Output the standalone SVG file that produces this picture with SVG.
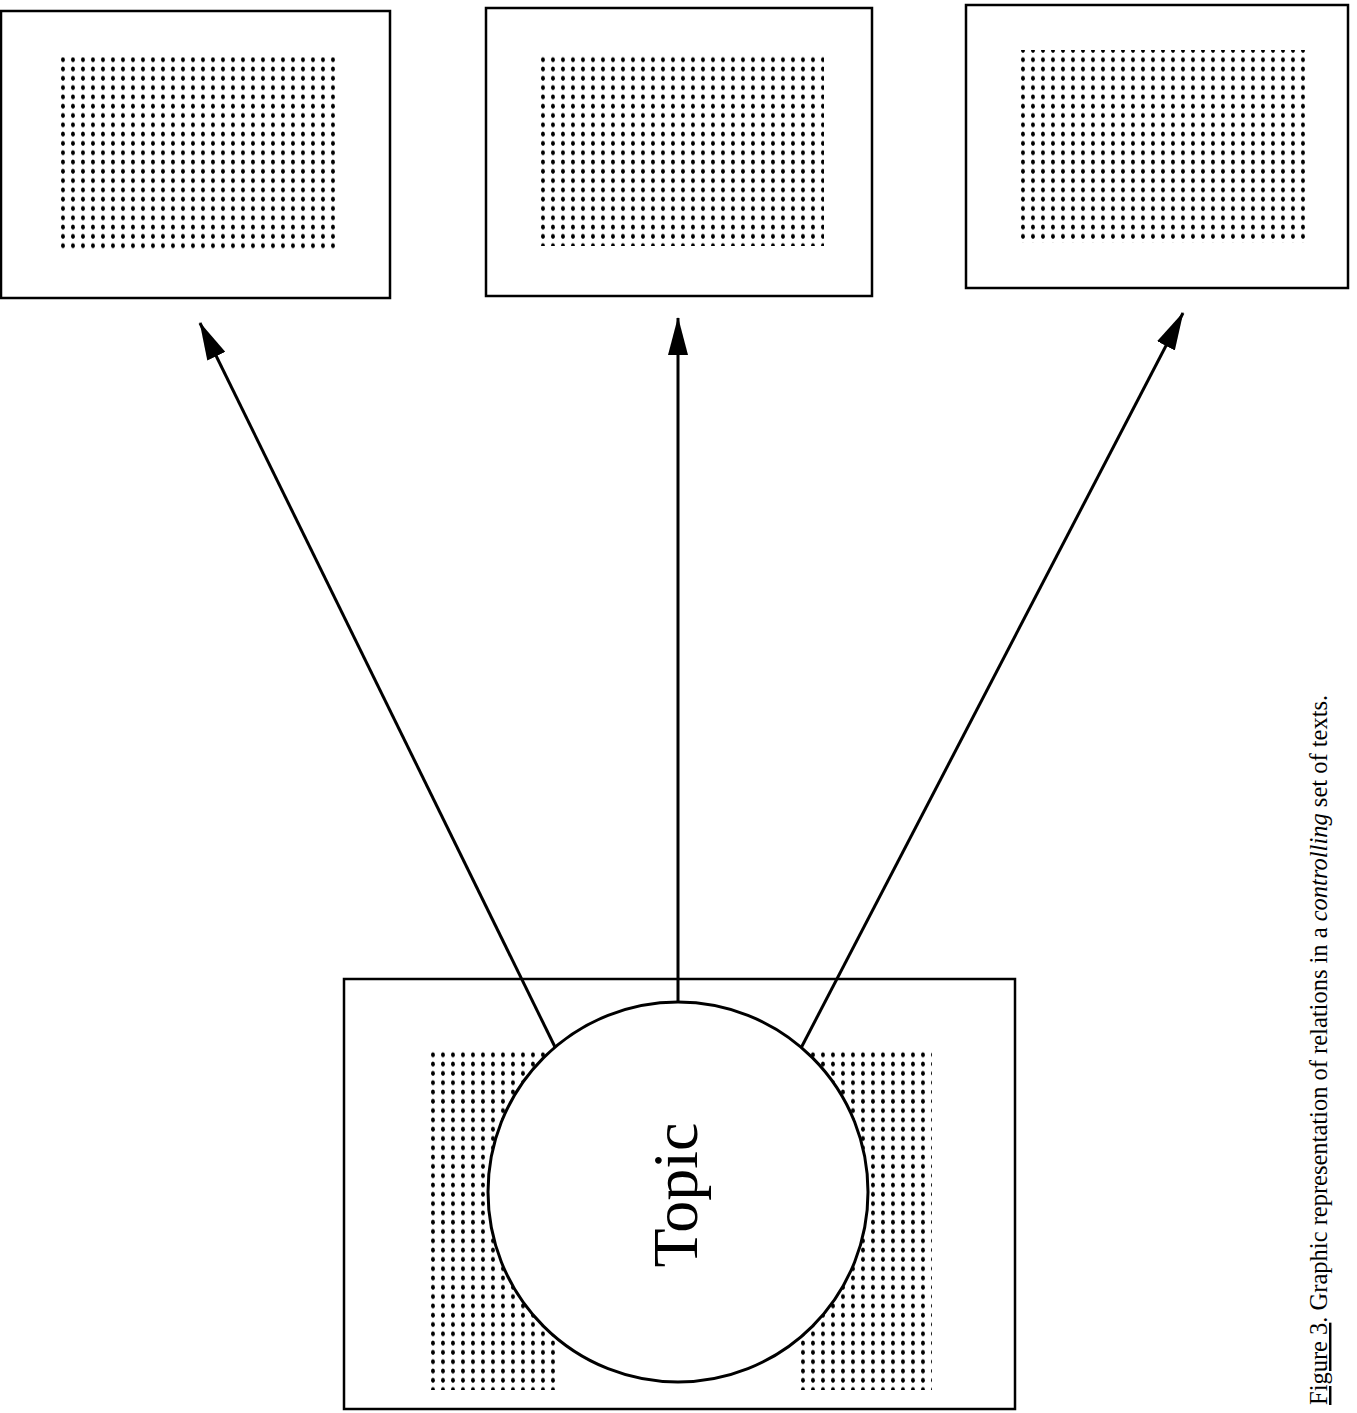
<svg xmlns="http://www.w3.org/2000/svg" width="1357" height="1413" viewBox="0 0 1357 1413">
<style>
.box{fill:#fff;stroke:#000;stroke-width:2.5}
.dots{fill:url(#dot)}
.conn{stroke:#000;stroke-width:3;fill:none;marker-end:url(#ah)}
.topic{font-family:"Liberation Serif","Times New Roman",serif;font-size:64px;fill:#000}
.cap{font-family:"Liberation Serif","Times New Roman",serif;font-size:24.5px;fill:#000}
</style>
<defs>
<pattern id="dot" x="0" y="0" width="10" height="9.3" patternUnits="userSpaceOnUse">
<ellipse cx="3" cy="4" rx="1.9" ry="2.6" fill="#000"/>
</pattern>
<marker id="ah" viewBox="0 0 38 20" refX="37" refY="10" markerWidth="38" markerHeight="20" markerUnits="userSpaceOnUse" orient="auto">
<path d="M0,0 L38,10 L0,20 Z" fill="#000"/>
</marker>
</defs>
<rect width="1357" height="1413" fill="#fff"/>
<g id="box-left">
<rect class="box" x="1" y="11" width="389" height="287"/>
<rect class="dots" x="56" y="57" width="283" height="195"/>
</g>
<g id="box-middle">
<rect class="box" x="486" y="8" width="386" height="288"/>
<rect class="dots" x="537" y="54" width="287" height="192"/>
</g>
<g id="box-right">
<rect class="box" x="966" y="5" width="382" height="283"/>
<rect class="dots" x="1017" y="50" width="288" height="193"/>
</g>
<g id="topic-page">
<rect class="box" x="344" y="979" width="671" height="430"/>
<rect class="dots" x="425" y="1050" width="130" height="340"/>
<rect class="dots" x="800" y="1050" width="132" height="340"/>
</g>
<g id="connectors">
<line class="conn" x1="555" y1="1047" x2="200" y2="323"/>
<line class="conn" x1="678" y1="1002" x2="678" y2="318"/>
<line class="conn" x1="800" y1="1050" x2="1183" y2="313"/>
</g>
<g id="topic">
<circle cx="678" cy="1192" r="190" fill="#fff" stroke="#000" stroke-width="3"/>
<text class="topic" transform="translate(697,1195) rotate(-90)" text-anchor="middle">Topic</text>
</g>
<g id="caption">
<text class="cap" transform="translate(1327,1405) rotate(-90)"><tspan text-decoration="underline">Figure 3</tspan>. Graphic representation of relations in a <tspan font-style="italic">controlling</tspan>  set of texts.</text>
</g>
</svg>
